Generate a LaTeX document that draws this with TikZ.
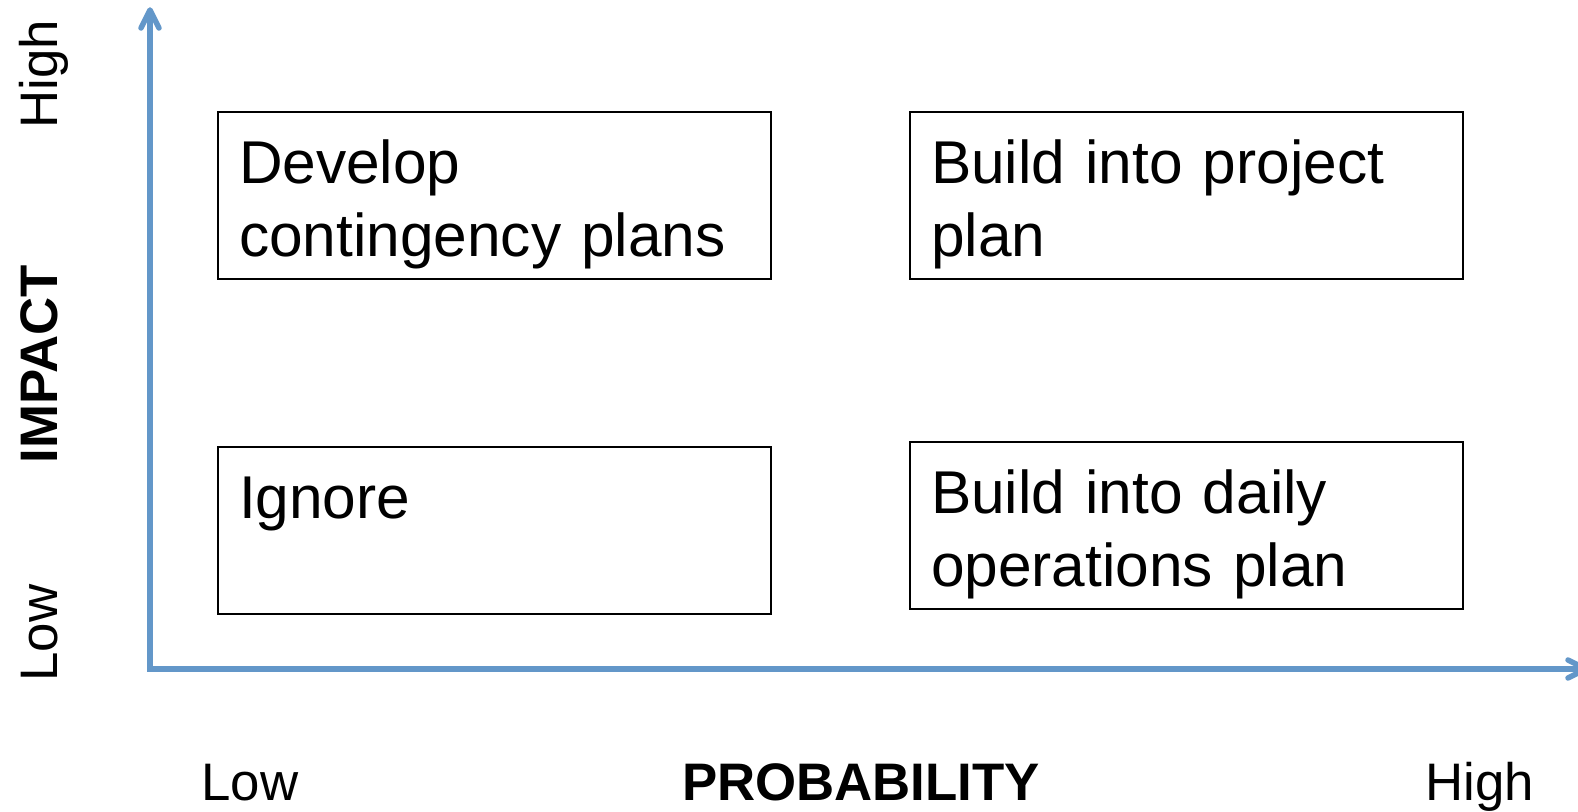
\documentclass[tikz,border=0pt]{standalone}
\usepackage{fontspec}
\setmainfont{Liberation Sans}
\usetikzlibrary{arrows.meta,positioning}
\definecolor{axisblue}{RGB}{99,151,201}
\begin{document}
\begin{tikzpicture}[x=1pt, y=1pt,
    axis/.style={axisblue, line width=5.5pt, line join=miter},
    chevron/.style={axisblue, line width=5.5pt, line cap=round, line join=round},
    quad/.style={draw, line width=2pt, anchor=north west, align=left,
        text width=511pt, inner xsep=21pt, inner ysep=0pt,
        text height=72pt, text depth=95pt,
        font=\fontsize{60.4}{72.4}\selectfont},
    axislabel/.style={anchor=base, font=\fontsize{52.8}{60}\selectfont},
    axisname/.style={anchor=base, font=\fontsize{52.8}{60}\selectfont\bfseries}]
\useasboundingbox (0, 0) rectangle (1578, 811);
% axes
\coordinate (origin) at (150, 142);
\coordinate (ytop) at (150, 801);
\coordinate (xend) at (1586, 142);
\draw[axis] (ytop) -- (origin) -- (xend);
\draw[chevron] ([shift={(-9,-18)}]ytop) -- (ytop) -- ([shift={(9,-18)}]ytop);
\draw[chevron] ([shift={(-18,9)}]xend) -- (xend) -- ([shift={(-18,-9)}]xend);
% the four quadrants
\node[quad] (contingency) at (217, 700) {Develop\\contingency plans};
\node[quad] (project) at (909, 700) {Build into project\\plan};
\node[quad] (ignore) at (217, 365) {Ignore};
\node[quad] (daily) at (909, 370) {Build into daily\\operations plan};
% axis labels
\node[axislabel, rotate=90] (impHigh) at (57, 737) {High};
\node[axisname, rotate=90] (impact) at (57, 447) {IMPACT};
\node[axislabel, rotate=90] (impLow) at (57, 178) {Low};
\node[axislabel] (probLow) at (250, 11) {Low};
\node[axisname] (probability) at (861, 11) {PROBABILITY};
\node[axislabel] (probHigh) at (1480, 11) {High};
\end{tikzpicture}
\end{document}
